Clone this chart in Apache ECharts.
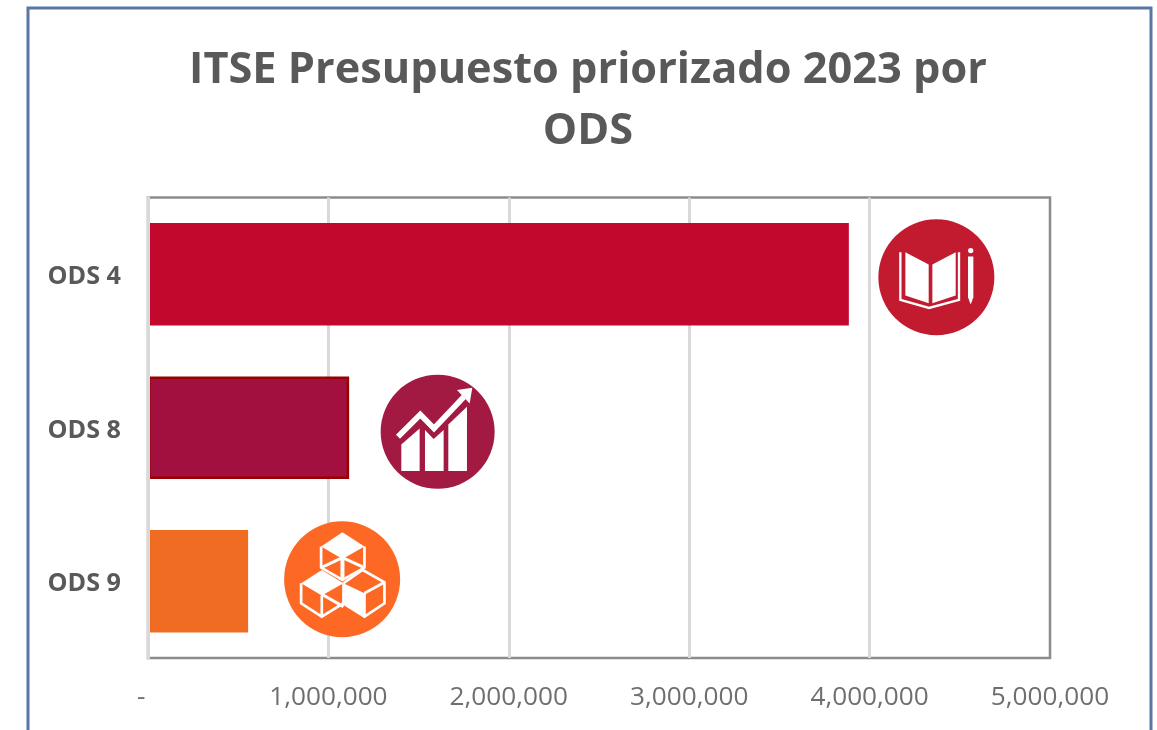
<!DOCTYPE html>
<html><head><meta charset="utf-8">
<style>html,body{margin:0;padding:0;background:#fff;overflow:hidden}#c{width:1157px;height:730px}</style>
<script src="https://cdn.jsdelivr.net/npm/echarts@6/dist/echarts.min.js"></script>
</head><body><div id="c"></div>
<script>
const categories = ['ODS 4', 'ODS 8', 'ODS 9'];
const budgetValues = [3885000, 1115000, 555000];
const axisTicks = [0, 1000000, 2000000, 3000000, 4000000, 5000000];
const chartTitle = 'ITSE Presupuesto priorizado 2023 por\nODS';

const barColors = ['#c3082e', '#a1103f', '#f06c22'];
const barBorders = ['#c3082e', '#990000', '#f06c22'];
const iconColors = ['#c21a2e', '#a21942', '#fd6925'];
// icon drawings: offset from the bar end / band centre (px), glyph drawn in a 3x local space
const icons = [
  { dx: 87.5, dy: 3, r: 58, ox: 230, oy: 230, fill: [
      'M137 155L207 192L207 308L137 285Z',
      'M218 192L288 155L288 285L218 308Z',
      'M325 168L341 168L341 290L333 312L325 290Z',
      'M325 150A8 8 0 1 0 341 150A8 8 0 1 0 325 150Z'
    ], stroke: [['M122 155L122 298L208 322L298 298L298 155', 7]] },
  { dx: 88.5, dy: 4, r: 57, ox: 204, oy: 200, fill: [
      'M95 238L150 190L150 318L95 318Z',
      'M166 195L192 222L222 195L222 318L166 318Z',
      'M236 178L292 125L292 318L236 318Z',
      'M262 75L308 68L300 115Z'
    ], stroke: [['M85 215L152 148L193 190L283 95', 17]] },
  { dx: 94, dy: -2, r: 58, ox: 201, oy: 193, fill: [
      'M202 52L268 95L202 132L138 95Z',
      'M140 165L205 205L140 242L78 205Z',
      'M205 205L268 235L268 305L205 265Z'
    ], stroke: [
      ['M138 95L138 158L202 195L268 158L268 95', 8],
      ['M202 128L202 195', 12],
      ['M138 158L202 128L268 158', 9],
      ['M78 205L78 265L140 305L205 265L205 205', 8],
      ['M140 242L140 305', 8],
      ['M140 238L205 275', 9],
      ['M205 205L262 165L328 202L328 265L268 305L205 265', 8],
      ['M268 235L328 202', 8],
      ['M268 235L268 305', 8]
    ] }
];

function renderIcon(params, api) {
  const i = params.dataIndex;
  const ic = icons[i];
  const p = api.coord([api.value(0), api.value(1)]);
  const children = [{
    type: 'circle', shape: { cx: ic.ox, cy: ic.oy, r: ic.r * 3 },
    style: { fill: iconColors[i] }
  }];
  ic.fill.forEach(d => children.push({ type: 'path', shape: { pathData: d }, style: { fill: '#fff' } }));
  ic.stroke.forEach(s => children.push({
    type: 'path', shape: { pathData: s[0] },
    style: { fill: 'none', stroke: '#fff', lineWidth: s[1], lineJoin: 'miter' }
  }));
  return {
    type: 'group', x: p[0] + ic.dx, y: p[1] + ic.dy,
    scaleX: 1 / 3, scaleY: 1 / 3, originX: 0, originY: 0,
    children: children.map(c => Object.assign(c, { x: -ic.ox, y: -ic.oy }))
  };
}

const chart = echarts.init(document.getElementById('c'), null, { renderer: 'canvas' });
chart.setOption({
  animation: false,
  backgroundColor: '#ffffff',
  title: {
    text: chartTitle, left: 583, top: 35, textAlign: 'center',
    textStyle: { fontFamily: 'Open Sans', fontWeight: 'bold', fontSize: 43.3, lineHeight: 61, color: '#595959' }
  },
  graphic: [{
    type: 'rect', silent: true, z: 10,
    shape: { x: 28, y: 8, width: 1123, height: 800 },
    style: { fill: 'none', stroke: '#5b75a5', lineWidth: 3 }
  }],
  grid: { left: 148, right: 107, top: 197.5, bottom: 72, show: true, borderColor: '#8c8c8c', borderWidth: 2.5, backgroundColor: 'transparent' },
  xAxis: {
    type: 'value', min: 0, max: 5000000, interval: 1000000,
    axisLine: { show: false }, axisTick: { show: false },
    splitLine: { show: true, lineStyle: { color: '#d9d9d9', width: 3 }, showMinLine: false, showMaxLine: false },
    axisLabel: {
      margin: 27, fontFamily: 'Open Sans', fontSize: 26.2, color: '#6f6f6f',
      customValues: axisTicks,
      formatter: v => v === 0 ? '-\u00A0\u00A0' : v.toLocaleString('en-US')
    }
  },
  yAxis: {
    type: 'category', inverse: true, data: categories, z: 3,
    axisLine: { show: true, lineStyle: { color: '#d9d9d9', width: 3 } },
    axisTick: { show: false },
    axisLabel: { margin: 27, fontFamily: 'Open Sans', fontWeight: 'bold', fontSize: 25.2, color: '#595959', verticalAlign: 'top', lineHeight: 6 }
  },
  series: [{
    type: 'bar', barWidth: '66.7%',
    data: budgetValues.map((v, i) => ({
      value: v,
      itemStyle: { color: barColors[i], borderColor: barBorders[i], borderWidth: i === 1 ? 2.5 : 0 }
    }))
  }, {
    type: 'custom', renderItem: renderIcon, clip: false, z: 5,
    encode: { x: 0, y: 1 },
    data: budgetValues.map((v, i) => [v, i])
  }]
});
</script></body></html>
